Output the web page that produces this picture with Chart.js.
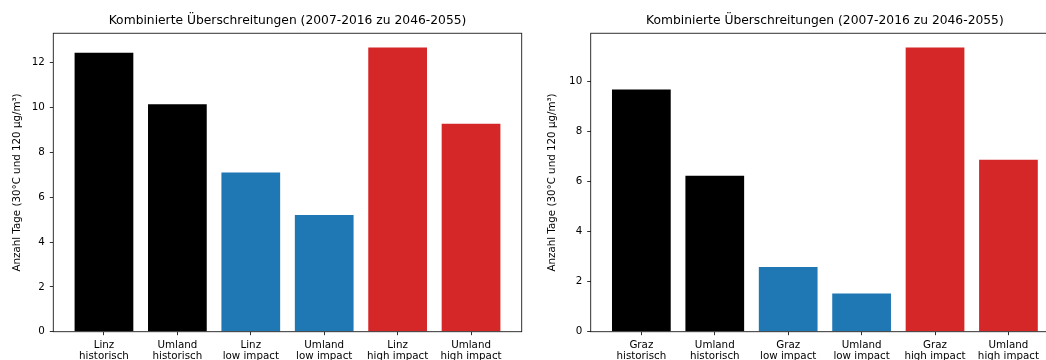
<!DOCTYPE html>
<html>
<head>
<meta charset="utf-8">
<script src="https://cdn.jsdelivr.net/npm/chart.js@4"></script>
<style>
  html, body { margin: 0; padding: 0; background: #ffffff; overflow: hidden; }
  #wrap { position: relative; width: 1046px; height: 360px; overflow: hidden; }
  canvas { position: absolute; top: 0; }
  #linz { left: 0; }
  #graz { left: 537px; }
</style>
</head>
<body>
<div id="wrap">
  <canvas id="linz" width="540" height="360"></canvas>
  <canvas id="graz" width="540" height="360"></canvas>
</div>
<script>
// Texts
const chartTitle = 'Kombinierte Überschreitungen (2007-2016 zu 2046-2055)';
const yAxisTitle = 'Anzahl Tage (30°C und 120 µg/m³)';

// Categories (two-line tick labels)
const categoriesLinz = [
  ['Linz', 'historisch'], ['Umland', 'historisch'],
  ['Linz', 'low impact'], ['Umland', 'low impact'],
  ['Linz', 'high impact'], ['Umland', 'high impact']
];
const categoriesGraz = [
  ['Graz', 'historisch'], ['Umland', 'historisch'],
  ['Graz', 'low impact'], ['Umland', 'low impact'],
  ['Graz', 'high impact'], ['Umland', 'high impact']
];

// Days with combined exceedances
const valuesLinz = [12.45, 10.15, 7.10, 5.21, 12.68, 9.28];
const valuesGraz = [9.68, 6.23, 2.59, 1.53, 11.36, 6.87];

// Y tick labels
const yTicksLinz = [0, 2, 4, 6, 8, 10, 12];
const yTicksGraz = [0, 2, 4, 6, 8, 10];

// Scenario colours: historisch, low impact, high impact
const barColors = ['#000000', '#000000', '#1f77b4', '#1f77b4', '#d62728', '#d62728'];

const FONT = 'DejaVu Sans';
const AXIS_COLOR = '#1a1a1a';

// Box around the plotting area
const framePlugin = {
  id: 'frame',
  afterDatasetsDraw(chart) {
    const { ctx, chartArea: a } = chart;
    ctx.save();
    ctx.strokeStyle = AXIS_COLOR;
    ctx.lineWidth = 0.9;
    ctx.strokeRect(a.left, a.top, a.right - a.left, a.bottom - a.top);
    ctx.restore();
  }
};

function makeChart(canvasId, categories, values, yTicks, opts) {
  const n = values.length;
  // bars are 0.8 wide, plus 5% margin of the data span on both sides
  const span = (n - 1) + 0.8;
  const xMin = -0.4 - 0.05 * span;
  const xMax = (n - 1) + 0.4 + 0.05 * span;
  const yMax = Math.max(...values) * 1.05;

  return new Chart(document.getElementById(canvasId), {
    type: 'bar',
    data: {
      datasets: [{
        data: values.map((v, i) => ({ x: i, y: v })),
        backgroundColor: barColors,
        borderWidth: 0,
        categoryPercentage: 0.8,
        barPercentage: 1.0
      }]
    },
    options: {
      responsive: false,
      animation: false,
      devicePixelRatio: 1,
      layout: { padding: { left: opts.padLeft, right: opts.padRight, top: 0, bottom: 0 } },
      plugins: {
        legend: { display: false },
        tooltip: { enabled: false },
        title: {
          display: true,
          text: chartTitle,
          fullSize: false,
          color: '#000000',
          font: { family: FONT, size: 12.3, weight: 'normal', lineHeight: 1.2 },
          padding: { top: 13.9, bottom: 4.6 }
        }
      },
      scales: {
        x: {
          type: 'linear',
          min: xMin,
          max: xMax,
          offset: false,
          grid: { display: true, drawOnChartArea: false, drawTicks: true, tickLength: 3.5,
                  color: AXIS_COLOR, lineWidth: 0.9, offset: false },
          border: { display: false },
          afterBuildTicks: (scale) => { scale.ticks = categories.map((_, i) => ({ value: i })); },
          afterFit: (scale) => { scale.height = 28.3; },
          ticks: {
            autoSkip: false,
            maxRotation: 0,
            minRotation: 0,
            padding: 4.3,
            color: '#000000',
            font: { family: FONT, size: 10.3, lineHeight: 1.1 },
            callback: (value) => categories[value]
          }
        },
        y: {
          type: 'linear',
          min: 0,
          max: yMax,
          grid: { display: true, drawOnChartArea: false, drawTicks: true, tickLength: 3.5,
                  color: AXIS_COLOR, lineWidth: 0.9 },
          border: { display: false },
          afterBuildTicks: (scale) => { scale.ticks = yTicks.map(v => ({ value: v })); },
          afterFit: (scale) => { scale.width = 53.3; },
          ticks: {
            padding: 5,
            color: '#000000',
            font: { family: FONT, size: 10.3 },
            callback: (value) => String(value)
          },
          title: {
            display: true,
            text: yAxisTitle,
            color: '#000000',
            font: { family: FONT, size: 10.3, lineHeight: 1.2 },
            padding: { top: opts.yTitlePad, bottom: 0 }
          }
        }
      }
    },
    plugins: [framePlugin]
  });
}

makeChart('linz', categoriesLinz, valuesLinz, yTicksLinz, { padLeft: 0, padRight: 18.3, yTitlePad: 11.0 });
makeChart('graz', categoriesGraz, valuesGraz, yTicksGraz, { padLeft: 0.4, padRight: 17.9, yTitlePad: 8.6 });
</script>
</body>
</html>
